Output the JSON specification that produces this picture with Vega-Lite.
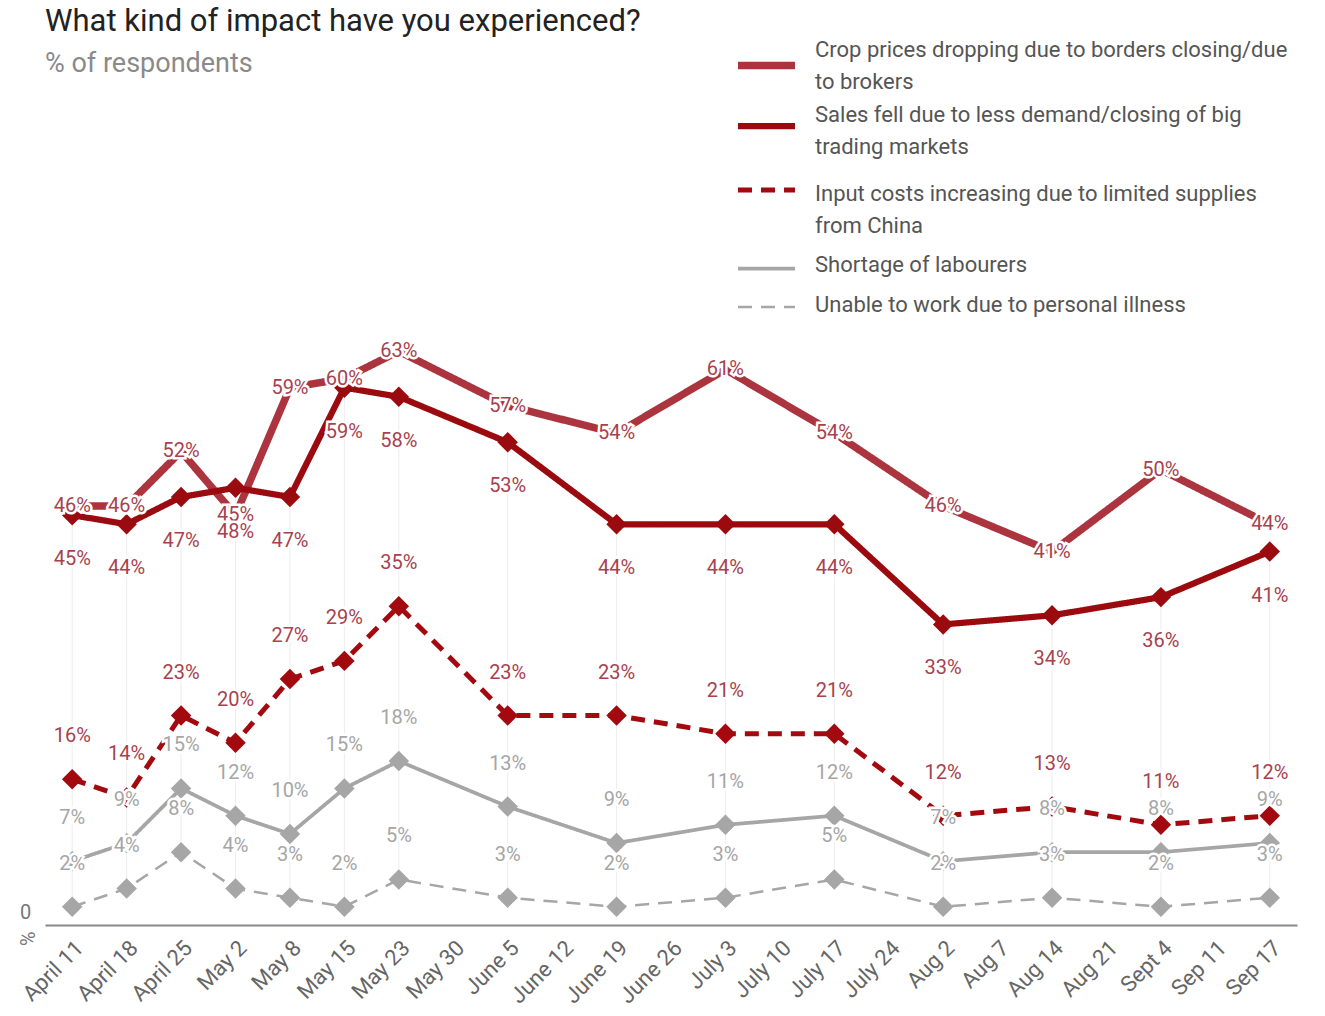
{
  "$schema": "https://vega.github.io/schema/vega-lite/v6.json",
  "width": 1252,
  "height": 592,
  "autosize": {"type": "none"},
  "padding": {"left": 45, "top": 333, "right": 28, "bottom": 91},
  "background": "white",
  "config": {"view": {"stroke": null}, "font": "Roboto"},
  "title": {
    "text": "What kind of impact have you experienced?",
    "subtitle": "% of respondents",
    "anchor": "start",
    "frame": "group",
    "offset": -45,
    "fontSize": 31,
    "fontWeight": "normal",
    "color": "#222222",
    "subtitleFontSize": 27,
    "subtitleColor": "#8a8a8a",
    "subtitlePadding": 13
  },
  "data": {"values": [
    {"date": "April 11", "series": "Crop prices", "value": 46},
    {"date": "April 18", "series": "Crop prices", "value": 46},
    {"date": "April 25", "series": "Crop prices", "value": 52},
    {"date": "May 2", "series": "Crop prices", "value": 45},
    {"date": "May 8", "series": "Crop prices", "value": 59},
    {"date": "May 15", "series": "Crop prices", "value": 60},
    {"date": "May 23", "series": "Crop prices", "value": 63},
    {"date": "June 5", "series": "Crop prices", "value": 57},
    {"date": "June 19", "series": "Crop prices", "value": 54},
    {"date": "July 3", "series": "Crop prices", "value": 61},
    {"date": "July 17", "series": "Crop prices", "value": 54},
    {"date": "Aug 2", "series": "Crop prices", "value": 46},
    {"date": "Aug 14", "series": "Crop prices", "value": 41},
    {"date": "Sept 4", "series": "Crop prices", "value": 50},
    {"date": "Sep 17", "series": "Crop prices", "value": 44},
    {"date": "April 11", "series": "Sales fell", "value": 45},
    {"date": "April 18", "series": "Sales fell", "value": 44},
    {"date": "April 25", "series": "Sales fell", "value": 47},
    {"date": "May 2", "series": "Sales fell", "value": 48},
    {"date": "May 8", "series": "Sales fell", "value": 47},
    {"date": "May 15", "series": "Sales fell", "value": 59},
    {"date": "May 23", "series": "Sales fell", "value": 58},
    {"date": "June 5", "series": "Sales fell", "value": 53},
    {"date": "June 19", "series": "Sales fell", "value": 44},
    {"date": "July 3", "series": "Sales fell", "value": 44},
    {"date": "July 17", "series": "Sales fell", "value": 44},
    {"date": "Aug 2", "series": "Sales fell", "value": 33},
    {"date": "Aug 14", "series": "Sales fell", "value": 34},
    {"date": "Sept 4", "series": "Sales fell", "value": 36},
    {"date": "Sep 17", "series": "Sales fell", "value": 41},
    {"date": "April 11", "series": "Input costs", "value": 16},
    {"date": "April 18", "series": "Input costs", "value": 14},
    {"date": "April 25", "series": "Input costs", "value": 23},
    {"date": "May 2", "series": "Input costs", "value": 20},
    {"date": "May 8", "series": "Input costs", "value": 27},
    {"date": "May 15", "series": "Input costs", "value": 29},
    {"date": "May 23", "series": "Input costs", "value": 35},
    {"date": "June 5", "series": "Input costs", "value": 23},
    {"date": "June 19", "series": "Input costs", "value": 23},
    {"date": "July 3", "series": "Input costs", "value": 21},
    {"date": "July 17", "series": "Input costs", "value": 21},
    {"date": "Aug 2", "series": "Input costs", "value": 12},
    {"date": "Aug 14", "series": "Input costs", "value": 13},
    {"date": "Sept 4", "series": "Input costs", "value": 11},
    {"date": "Sep 17", "series": "Input costs", "value": 12},
    {"date": "April 11", "series": "Labourers", "value": 7},
    {"date": "April 18", "series": "Labourers", "value": 9},
    {"date": "April 25", "series": "Labourers", "value": 15},
    {"date": "May 2", "series": "Labourers", "value": 12},
    {"date": "May 8", "series": "Labourers", "value": 10},
    {"date": "May 15", "series": "Labourers", "value": 15},
    {"date": "May 23", "series": "Labourers", "value": 18},
    {"date": "June 5", "series": "Labourers", "value": 13},
    {"date": "June 19", "series": "Labourers", "value": 9},
    {"date": "July 3", "series": "Labourers", "value": 11},
    {"date": "July 17", "series": "Labourers", "value": 12},
    {"date": "Aug 2", "series": "Labourers", "value": 7},
    {"date": "Aug 14", "series": "Labourers", "value": 8},
    {"date": "Sept 4", "series": "Labourers", "value": 8},
    {"date": "Sep 17", "series": "Labourers", "value": 9},
    {"date": "April 11", "series": "Illness", "value": 2},
    {"date": "April 18", "series": "Illness", "value": 4},
    {"date": "April 25", "series": "Illness", "value": 8},
    {"date": "May 2", "series": "Illness", "value": 4},
    {"date": "May 8", "series": "Illness", "value": 3},
    {"date": "May 15", "series": "Illness", "value": 2},
    {"date": "May 23", "series": "Illness", "value": 5},
    {"date": "June 5", "series": "Illness", "value": 3},
    {"date": "June 19", "series": "Illness", "value": 2},
    {"date": "July 3", "series": "Illness", "value": 3},
    {"date": "July 17", "series": "Illness", "value": 5},
    {"date": "Aug 2", "series": "Illness", "value": 2},
    {"date": "Aug 14", "series": "Illness", "value": 3},
    {"date": "Sept 4", "series": "Illness", "value": 2},
    {"date": "Sep 17", "series": "Illness", "value": 3}
  ]},
  "encoding": {
    "x": {
      "field": "date",
      "type": "ordinal",
      "scale": {
        "type": "point",
        "padding": 0.5,
        "domain": ["April 11", "April 18", "April 25", "May 2", "May 8", "May 15", "May 23", "May 30", "June 5", "June 12", "June 19", "June 26", "July 3", "July 10", "July 17", "July 24", "Aug 2", "Aug 7", "Aug 14", "Aug 21", "Sept 4", "Sep 11", "Sep 17"]
      },
      "sort": null,
      "axis": {
        "title": null,
        "labelAngle": -45,
        "labelFontSize": 22,
        "labelColor": "#666666",
        "labelPadding": 12,
        "ticks": false,
        "grid": false,
        "domainColor": "#888888",
        "domainWidth": 2
      }
    },
    "y": {
      "field": "value",
      "type": "quantitative",
      "scale": {"domain": [0, 65], "nice": false},
      "axis": {
        "values": [0],
        "title": "%",
        "titleAngle": 90,
        "titleX": -20,
        "titleY": 605,
        "titleAlign": "center",
        "titleBaseline": "middle",
        "titleFontSize": 20,
        "titleFontWeight": "normal",
        "titleColor": "#777777",
        "labelFontSize": 20,
        "labelColor": "#777777",
        "labelAlign": "center",
        "labelPadding": 20,
        "labelOffset": -13,
        "ticks": false,
        "grid": false,
        "domain": false
      }
    }
  },
  "layer": [
    {
      "transform": [
        {"filter": "datum.series != 'Crop prices'"},
        {"aggregate": [{"op": "min", "field": "value", "as": "lo"}, {"op": "max", "field": "value", "as": "hi"}], "groupby": ["date"]}
      ],
      "mark": {"type": "rule", "color": "#ededed", "strokeWidth": 1},
      "encoding": {
        "y": {"field": "lo", "type": "quantitative"},
        "y2": {"field": "hi"}
      }
    },
    {
      "mark": {"type": "line", "strokeCap": "butt"},
      "encoding": {
        "color": {
          "field": "series",
          "type": "nominal",
          "scale": {
            "domain": ["Crop prices", "Sales fell", "Input costs", "Labourers", "Illness"],
            "range": ["#ab343f", "#9b0a0e", "#a30a10", "#a6a6a6", "#a6a6a6"]
          },
          "legend": {
            "title": null,
            "orient": "none",
            "legendX": 689,
            "legendY": -300,
            "symbolType": "stroke",
            "symbolSize": 3249,
            "labelFontSize": 22,
            "labelColor": "#555555",
            "labelLimit": 700,
            "labelOffset": 16,
            "rowPadding": 1,
            "encoding": {"labels": {"lineHeight": {"value": 32}, "dy": {"value": {"expr": "datum.value == 'Crop prices' ? -16 : datum.value == 'Sales fell' ? -11 : datum.value == 'Input costs' ? 4 : datum.value == 'Labourers' ? -4 : -2"}}}},
            "labelExpr": "datum.label == 'Crop prices' ? ['Crop prices dropping due to borders closing/due', 'to brokers'] : datum.label == 'Sales fell' ? ['Sales fell due to less demand/closing of big', ' trading markets'] : datum.label == 'Input costs' ? ['Input costs increasing due to limited supplies', 'from China'] : datum.label == 'Labourers' ? 'Shortage of labourers' : 'Unable to work due to personal illness'"
          }
        },
        "strokeDash": {
          "field": "series",
          "type": "nominal",
          "scale": {
            "domain": ["Crop prices", "Sales fell", "Input costs", "Labourers", "Illness"],
            "range": [[1, 0], [1, 0], [14, 9], [1, 0], [14, 9]]
          },
          "legend": null
        },
        "strokeWidth": {
          "field": "series",
          "type": "nominal",
          "scale": {
            "domain": ["Crop prices", "Sales fell", "Input costs", "Labourers", "Illness"],
            "range": [7.5, 2.5, 3, 2.5, 3]
          },
          "legend": null
        }
      }
    },
    {
      "transform": [{"filter": "datum.series != 'Crop prices'"}],
      "mark": {"type": "point", "shape": "diamond", "filled": true, "size": 420, "opacity": 1},
      "encoding": {
        "color": {"field": "series", "type": "nominal", "legend": null}
      }
    },
    {
      "transform": [{"filter": "datum.series == 'Crop prices'"}],
      "layer": [
        {"mark": {"type": "text", "fontSize": 20, "stroke": "white", "strokeWidth": 5, "fill": "white", "text": {"expr": "datum.value + '%'"}}},
        {"mark": {"type": "text", "fontSize": 20, "fill": "#a8424e", "text": {"expr": "datum.value + '%'"}}}
      ]
    },
    {
      "transform": [{"filter": "datum.series == 'Sales fell'"}],
      "layer": [
        {"mark": {"type": "text", "fontSize": 20, "dy": 44, "stroke": "white", "strokeWidth": 5, "fill": "white", "text": {"expr": "datum.value + '%'"}}},
        {"mark": {"type": "text", "fontSize": 20, "dy": 44, "fill": "#a8424e", "text": {"expr": "datum.value + '%'"}}}
      ]
    },
    {
      "transform": [{"filter": "datum.series == 'Input costs'"}],
      "layer": [
        {"mark": {"type": "text", "fontSize": 20, "dy": -43, "stroke": "white", "strokeWidth": 5, "fill": "white", "text": {"expr": "datum.value + '%'"}}},
        {"mark": {"type": "text", "fontSize": 20, "dy": -43, "fill": "#a8424e", "text": {"expr": "datum.value + '%'"}}}
      ]
    },
    {
      "transform": [{"filter": "datum.series == 'Labourers' || datum.series == 'Illness'"}],
      "layer": [
        {"mark": {"type": "text", "fontSize": 20, "dy": -43, "stroke": "white", "strokeWidth": 5, "fill": "white", "text": {"expr": "datum.value + '%'"}}},
        {"mark": {"type": "text", "fontSize": 20, "dy": -43, "fill": "#a6a6a6", "text": {"expr": "datum.value + '%'"}}}
      ]
    }
  ]
}
